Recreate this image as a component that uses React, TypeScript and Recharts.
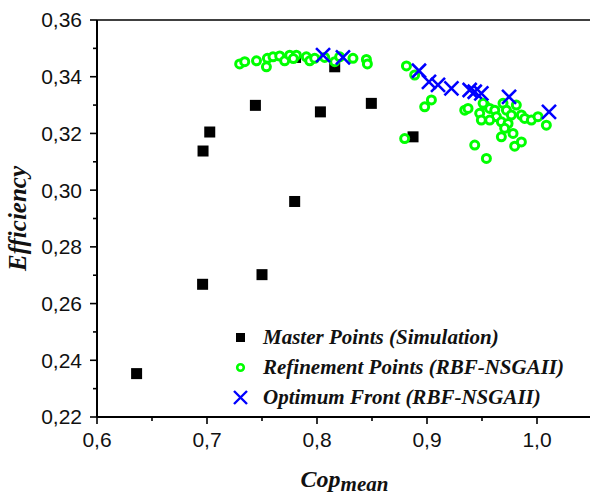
import { ScatterChart, Scatter, XAxis, YAxis, ReferenceLine, Legend } from 'recharts'

// [cop mean, efficiency] pairs
const MASTER: [number, number][] = [
  [0.636, 0.2353], [0.696, 0.2668], [0.6964, 0.3138], [0.7025, 0.3205],
  [0.744, 0.3299], [0.75, 0.2702], [0.7797, 0.296], [0.7805, 0.3468],
  [0.8031, 0.3276], [0.8161, 0.3435], [0.8494, 0.3306], [0.8873, 0.3188],
]

const REFINE: [number, number][] = [
  [0.7297, 0.3445], [0.7343, 0.3453], [0.745, 0.3456], [0.7549, 0.3465],
  [0.754, 0.3435], [0.76, 0.347], [0.7661, 0.3473], [0.7706, 0.3456],
  [0.7752, 0.3476], [0.7812, 0.3476], [0.7785, 0.3464], [0.7903, 0.347],
  [0.7934, 0.3456], [0.7979, 0.3465], [0.807, 0.3468], [0.8161, 0.3453],
  [0.8206, 0.347], [0.8327, 0.3465], [0.8449, 0.3461], [0.8458, 0.3445],
  [0.8813, 0.3438], [0.8888, 0.3406], [0.904, 0.3318], [0.8979, 0.3294],
  [0.8797, 0.3182], [0.9343, 0.3282], [0.9373, 0.3288], [0.9479, 0.3271],
  [0.9494, 0.3247], [0.9525, 0.33], [0.957, 0.3288], [0.9616, 0.3282],
  [0.9631, 0.3259], [0.9676, 0.3241], [0.9691, 0.3306], [0.9722, 0.3282],
  [0.9767, 0.3265], [0.9737, 0.3235], [0.9706, 0.3218], [0.9676, 0.3188],
  [0.9782, 0.32], [0.9797, 0.3155], [0.9858, 0.317], [0.9812, 0.33],
  [0.9858, 0.3265], [0.9888, 0.3253], [0.9949, 0.3247], [1.0009, 0.3259],
  [1.0085, 0.3229], [0.9434, 0.3159], [0.954, 0.3112], [0.957, 0.3247],
  [0.951, 0.3306],
]

const FRONT: [number, number][] = [
  [0.8055, 0.3476], [0.8236, 0.3468], [0.8927, 0.3421], [0.9018, 0.3382],
  [0.91, 0.3371], [0.9222, 0.3359], [0.9388, 0.3353], [0.9434, 0.3347],
  [0.9494, 0.3341], [0.9746, 0.3329], [1.0109, 0.3276],
]

const X_TICKS = [0.6, 0.65, 0.7, 0.75, 0.8, 0.85, 0.9, 0.95, 1.0, 1.05]
const Y_TICKS = [0.22, 0.23, 0.24, 0.25, 0.26, 0.27, 0.28, 0.29, 0.3, 0.31, 0.32, 0.33, 0.34, 0.35, 0.36]

const NAMES = ['Master Points (Simulation)', 'Refinement Points (RBF-NSGAII)', 'Optimum Front (RBF-NSGAII)']

const toPts = (arr: [number, number][]) => arr.map(([x, y]) => ({ x, y }))

const SANS = '"Liberation Sans", Arial, sans-serif'
const SERIF = '"Liberation Serif", "Times New Roman", serif'
const TICK_OFF = 15 // tickSize 7 + tickMargin 8
const comma = (v: number, d: number) => v.toFixed(d).replace('.', ',')

function YTick({ x, y, payload }: any) {
  const v = payload.value as number
  const major = Math.round(v * 100) % 2 === 0
  const ax = x + TICK_OFF
  return (
    <g>
      <line x1={ax - (major ? 7 : 4)} x2={ax} y1={y} y2={y} stroke="#000" strokeWidth={1.6} />
      {major && (
        <text x={x} y={y} dy="0.355em" textAnchor="end" fontFamily={SANS} fontSize={21} fill="#111">
          {comma(v, 2)}
        </text>
      )}
    </g>
  )
}

function XTick({ x, y, payload }: any) {
  const v = payload.value as number
  const major = Math.round(v * 100) % 10 === 0
  const ay = y - TICK_OFF
  return (
    <g>
      <line x1={x} x2={x} y1={ay} y2={ay + (major ? 7 : 4)} stroke="#000" strokeWidth={1.6} />
      {major && (
        <text x={x} y={y} dy="0.71em" textAnchor="middle" fontFamily={SANS} fontSize={21} fill="#111">
          {comma(v, 1)}
        </text>
      )}
    </g>
  )
}

const Square = ({ cx, cy }: any) =>
  cx == null ? <g /> : <rect x={cx - 5.5} y={cy - 5.5} width={11} height={11} fill="#000" />
const Ring = ({ cx, cy }: any) =>
  cx == null ? <g /> : <circle cx={cx} cy={cy} r={4} fill="#fff" stroke="#00ff00" strokeWidth={3} />
const Cross = ({ cx, cy }: any) =>
  cx == null ? <g /> : (
    <path d={`M${cx - 7},${cy - 7}L${cx + 7},${cy + 7}M${cx + 7},${cy - 7}L${cx - 7},${cy + 7}`}
      stroke="#0000ff" strokeWidth={2.6} fill="none" />
  )

function LegendIcon({ i }: { i: number }) {
  return (
    <svg width={20} height={20} style={{ flex: 'none' }}>
      {i === 0 && <rect x={6} y={6} width={9} height={9} fill="#000" />}
      {i === 1 && <circle cx={10.5} cy={10.5} r={3.3} fill="#fff" stroke="#00ff00" strokeWidth={2.6} />}
      {i === 2 && <path d="M4,4L17,17M17,4L4,17" stroke="#0000ff" strokeWidth={2.4} />}
    </svg>
  )
}

function LegendBox() {
  return (
    <div>
      {NAMES.map((n, i) => (
        <div key={n} style={{ display: 'flex', alignItems: 'center', height: 30 }}>
          <LegendIcon i={i} />
          <span style={{
            marginLeft: 13, fontFamily: SERIF, fontWeight: 700, fontStyle: 'italic',
            fontSize: 21, color: '#111', whiteSpace: 'nowrap',
          }}>{n}</span>
        </div>
      ))}
    </div>
  )
}

export default function App() {
  return (
    <div style={{ position: 'absolute', left: 0, top: 0, width: 590, height: 497, overflow: 'hidden', background: '#fff' }}>
      <ScatterChart width={600} height={497} margin={{ top: 20, right: 8, bottom: 0, left: 0 }}>
        <XAxis
          type="number" dataKey="x" domain={[0.6, 1.05]} ticks={X_TICKS} allowDataOverflow
          height={80} tickSize={7} tickMargin={8} tickLine={false} tick={<XTick />}
          axisLine={{ stroke: '#000', strokeWidth: 2 }} interval={0}
          label={({ viewBox }: any) => (
            <text x={viewBox.x + viewBox.width / 2} y={viewBox.y + 70} textAnchor="middle"
              fontFamily={SERIF} fontWeight={700} fontStyle="italic" fill="#111">
              <tspan fontSize={24}>Cop</tspan>
              <tspan fontSize={21} dy={4}>mean</tspan>
            </text>
          )}
        />
        <YAxis
          type="number" dataKey="y" domain={[0.22, 0.36]} ticks={Y_TICKS} allowDataOverflow
          width={97} tickSize={7} tickMargin={8} tickLine={false} tick={<YTick />}
          axisLine={{ stroke: '#000', strokeWidth: 2 }} interval={0}
          label={({ viewBox }: any) => {
            const cx = viewBox.x + 26
            const cy = viewBox.y + viewBox.height / 2
            return (
              <text x={cx} y={cy} transform={`rotate(-90 ${cx} ${cy})`} textAnchor="middle"
                fontFamily={SERIF} fontWeight={700} fontStyle="italic" fontSize={25} fill="#111">
                Efficiency
              </text>
            )
          }}
        />
        <ReferenceLine y={0.36} stroke="#000" strokeWidth={1.6} />
        <Scatter name={NAMES[0]} data={toPts(MASTER)} shape={Square} isAnimationActive={false} />
        <Scatter name={NAMES[1]} data={toPts(REFINE)} shape={Ring} isAnimationActive={false} />
        <Scatter name={NAMES[2]} data={toPts(FRONT)} shape={Cross} isAnimationActive={false} />
        <Legend
          layout="vertical" align="center" verticalAlign="middle"
          wrapperStyle={{ left: 230, top: 322, width: 'auto' }}
          content={() => <LegendBox />}
        />
      </ScatterChart>
    </div>
  )
}
